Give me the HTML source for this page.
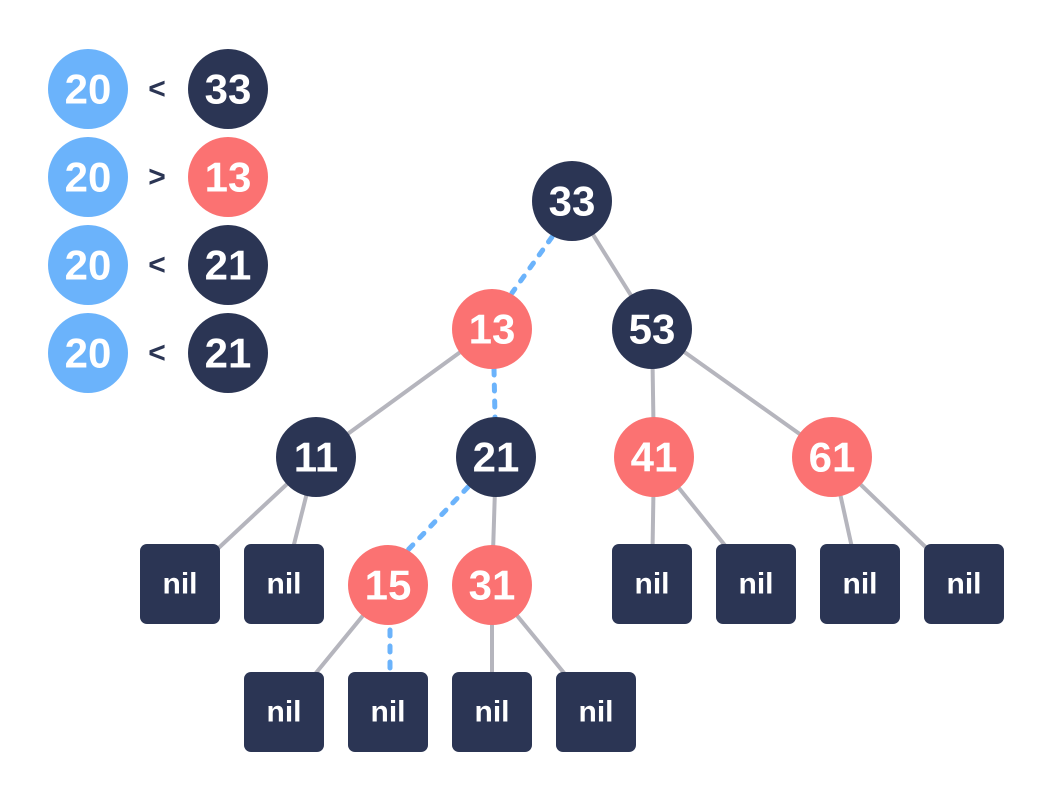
<!DOCTYPE html>
<html><head><meta charset="utf-8"><style>
html,body{margin:0;padding:0;background:#fff;}
text{font-family:"Liberation Sans","DejaVu Sans",sans-serif;font-weight:bold;fill:#fff;text-anchor:middle;dominant-baseline:central;}
</style></head><body>
<svg width="1052" height="800" viewBox="0 0 1052 800" xmlns="http://www.w3.org/2000/svg">
<g stroke="#b5b5bd" stroke-width="4" fill="none">
<line x1="572" y1="201" x2="652" y2="329"/>
<line x1="492" y1="329" x2="316" y2="457"/>
<line x1="652" y1="329" x2="654" y2="457"/>
<line x1="652" y1="329" x2="832" y2="457"/>
<line x1="316" y1="457" x2="180" y2="584"/>
<line x1="316" y1="457" x2="284" y2="584"/>
<line x1="496" y1="457" x2="492" y2="585"/>
<line x1="654" y1="457" x2="652" y2="584"/>
<line x1="654" y1="457" x2="756" y2="584"/>
<line x1="832" y1="457" x2="860" y2="584"/>
<line x1="832" y1="457" x2="964" y2="584"/>
<line x1="388" y1="585" x2="284" y2="712"/>
<line x1="492" y1="585" x2="492" y2="712"/>
<line x1="492" y1="585" x2="596" y2="712"/>
</g>
<g stroke="#6bb3fb" stroke-width="5" stroke-linecap="round" stroke-dasharray="6 10" fill="none">
<line x1="552" y1="237" x2="512" y2="293"/>
<line x1="494" y1="369" x2="495" y2="417"/>
<line x1="468" y1="487" x2="408" y2="550"/>
<line x1="390" y1="630" x2="390" y2="670"/>
</g>
<g>
<circle cx="88" cy="89" r="40" fill="#6bb3fb"/><text x="88" y="89" font-size="42">20</text>
<circle cx="228" cy="89" r="40" fill="#2b3554"/><text x="228" y="89" font-size="42">33</text>
<text x="157" y="89" font-size="30" style="fill:#2b3554">&lt;</text>
<circle cx="88" cy="177" r="40" fill="#6bb3fb"/><text x="88" y="177" font-size="42">20</text>
<circle cx="228" cy="177" r="40" fill="#fb7272"/><text x="228" y="177" font-size="42">13</text>
<text x="157" y="177" font-size="30" style="fill:#2b3554">&gt;</text>
<circle cx="88" cy="265" r="40" fill="#6bb3fb"/><text x="88" y="265" font-size="42">20</text>
<circle cx="228" cy="265" r="40" fill="#2b3554"/><text x="228" y="265" font-size="42">21</text>
<text x="157" y="265" font-size="30" style="fill:#2b3554">&lt;</text>
<circle cx="88" cy="353" r="40" fill="#6bb3fb"/><text x="88" y="353" font-size="42">20</text>
<circle cx="228" cy="353" r="40" fill="#2b3554"/><text x="228" y="353" font-size="42">21</text>
<text x="157" y="353" font-size="30" style="fill:#2b3554">&lt;</text>
</g>
<g font-size="42">
<circle cx="572" cy="201" r="40" fill="#2b3554"/><text x="572" y="201">33</text>
<circle cx="492" cy="329" r="40" fill="#fb7272"/><text x="492" y="329">13</text>
<circle cx="652" cy="329" r="40" fill="#2b3554"/><text x="652" y="329">53</text>
<circle cx="316" cy="457" r="40" fill="#2b3554"/><text x="316" y="457">11</text>
<circle cx="496" cy="457" r="40" fill="#2b3554"/><text x="496" y="457">21</text>
<circle cx="654" cy="457" r="40" fill="#fb7272"/><text x="654" y="457">41</text>
<circle cx="832" cy="457" r="40" fill="#fb7272"/><text x="832" y="457">61</text>
<circle cx="388" cy="585" r="40" fill="#fb7272"/><text x="388" y="585">15</text>
<circle cx="492" cy="585" r="40" fill="#fb7272"/><text x="492" y="585">31</text>
</g>
<g fill="#2b3554">
<rect x="140" y="544" width="80" height="80" rx="7"/>
<rect x="244" y="544" width="80" height="80" rx="7"/>
<rect x="612" y="544" width="80" height="80" rx="7"/>
<rect x="716" y="544" width="80" height="80" rx="7"/>
<rect x="820" y="544" width="80" height="80" rx="7"/>
<rect x="924" y="544" width="80" height="80" rx="7"/>
<rect x="244" y="672" width="80" height="80" rx="7"/>
<rect x="348" y="672" width="80" height="80" rx="7"/>
<rect x="452" y="672" width="80" height="80" rx="7"/>
<rect x="556" y="672" width="80" height="80" rx="7"/>
</g>
<g font-size="30">
<text x="180" y="584">nil</text><text x="284" y="584">nil</text>
<text x="652" y="584">nil</text><text x="756" y="584">nil</text>
<text x="860" y="584">nil</text><text x="964" y="584">nil</text>
<text x="284" y="712">nil</text><text x="388" y="712">nil</text>
<text x="492" y="712">nil</text><text x="596" y="712">nil</text>
</g>
</svg>
</body></html>
